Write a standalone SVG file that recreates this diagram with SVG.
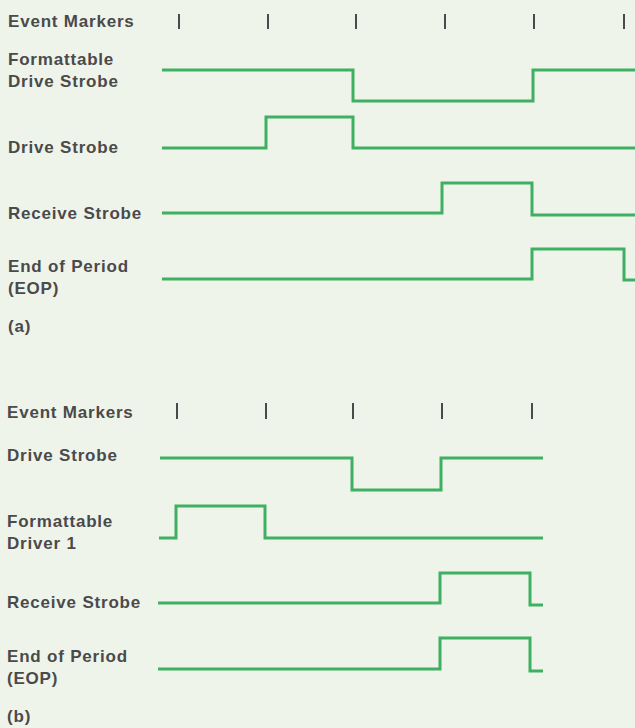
<svg xmlns="http://www.w3.org/2000/svg" width="635" height="728" viewBox="0 0 635 728">
<style>
.bg{fill:#eff4eb}
.lbl{font-family:"Liberation Sans",Arial,sans-serif;font-weight:bold;font-size:17px;letter-spacing:0.8px;fill:#4a4a4a}
.tick{stroke:#4a4a4a;stroke-width:2}
.wave{fill:none;stroke:#3fb062;stroke-width:3;stroke-linejoin:miter}
</style>
<rect class="bg" x="0" y="0" width="635" height="728"/>
<g id="part-a">
  <g id="a-event-markers">
    <text class="lbl" x="8" y="27">Event Markers</text>
    <path class="tick" d="M179,14V29M268,14V29M356,14V29M445,14V29M534,14V29M624,14V29"/>
  </g>
  <g id="a-formattable-drive-strobe">
    <text class="lbl" x="8" y="65">Formattable</text>
    <text class="lbl" x="8" y="87">Drive Strobe</text>
    <path class="wave" d="M162,70H353V101H533V70H635"/>
  </g>
  <g id="a-drive-strobe">
    <text class="lbl" x="8" y="153">Drive Strobe</text>
    <path class="wave" d="M162,148H266V117H353V148H635"/>
  </g>
  <g id="a-receive-strobe">
    <text class="lbl" x="8" y="219">Receive Strobe</text>
    <path class="wave" d="M162,213H442V183H532V215H635"/>
  </g>
  <g id="a-eop">
    <text class="lbl" x="8" y="272">End of Period</text>
    <text class="lbl" x="8" y="294">(EOP)</text>
    <path class="wave" d="M162,279H532V249H624V280H635"/>
  </g>
  <text class="lbl" x="8" y="332">(a)</text>
</g>
<g id="part-b">
  <g id="b-event-markers">
    <text class="lbl" x="7" y="418">Event Markers</text>
    <path class="tick" d="M177,403V419M266,403V419M353,403V419M442,403V419M532,403V419"/>
  </g>
  <g id="b-drive-strobe">
    <text class="lbl" x="7" y="461">Drive Strobe</text>
    <path class="wave" d="M160,458H352V490H441V458H543"/>
  </g>
  <g id="b-formattable-driver-1">
    <text class="lbl" x="7" y="527">Formattable</text>
    <text class="lbl" x="7" y="549">Driver 1</text>
    <path class="wave" d="M159,538H176V506H265V538H543"/>
  </g>
  <g id="b-receive-strobe">
    <text class="lbl" x="7" y="608">Receive Strobe</text>
    <path class="wave" d="M158,603H440V573H530V605H543"/>
  </g>
  <g id="b-eop">
    <text class="lbl" x="7" y="662">End of Period</text>
    <text class="lbl" x="7" y="684">(EOP)</text>
    <path class="wave" d="M158,669H440V638H530V671H543"/>
  </g>
  <text class="lbl" x="7" y="722">(b)</text>
</g>
</svg>
